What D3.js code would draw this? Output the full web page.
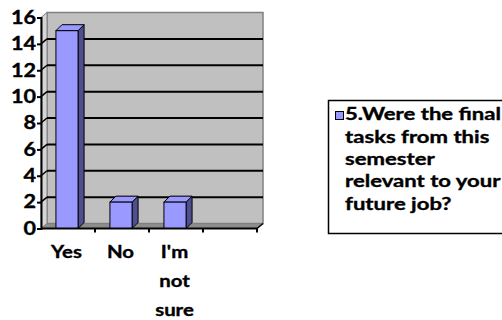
<!DOCTYPE html>
<html><head><meta charset="utf-8">
<script src="https://cdn.jsdelivr.net/npm/d3@7"></script>
<style>
html,body{margin:0;padding:0;background:#fff;}
svg{display:block;}
text{font-family:Lato,"Open Sans",sans-serif;font-weight:bold;fill:#000;stroke:#000;stroke-width:0.35px;}
</style></head>
<body>
<svg id="c" width="502" height="320"></svg>
<script>
const categories = ["Yes", "No", "I'm not sure", ""];
const categoryLines = [["Yes"], ["No"], ["I'm", "not", "sure"], []];
const values = [15, 2, 2, null];
const yTicks = [0, 2, 4, 6, 8, 10, 12, 14, 16];
const legendLines = ["5.Were the final", "tasks from this", "semester", "relevant to your", "future job?"];

const svg = d3.select("#c");
const x = d3.scaleBand().domain(categories).range([41, 257]).paddingInner(0);
const y = d3.scaleLinear().domain([0, 16]).range([228.5, 17.5]);
const dx = 6, dy = -5;      // wall depth
const bdx = 6, bdy = -6;    // bar depth
const x0 = x.range()[0], x1 = x.range()[1];
const yb = y(0), yt = y(16);

// back wall
svg.append("rect").attr("x", x0 + dx).attr("y", yt + dy).attr("width", x1 - x0).attr("height", yb - yt)
  .attr("fill", "#c0c0c0").attr("stroke", "#808080").attr("stroke-width", 1.5);
// left wall
svg.append("polygon").attr("points", [[x0, yt], [x0 + dx, yt + dy], [x0 + dx, yb + dy], [x0, yb]].join(" "))
  .attr("fill", "#d6d6d6").attr("stroke", "#808080").attr("stroke-width", 1);
// floor
svg.append("polygon").attr("points", [[x0, yb], [x0 + dx, yb + dy], [x1 + dx, yb + dy], [x1, yb]].join(" "))
  .attr("fill", "#8c8c8c").attr("stroke", "#808080").attr("stroke-width", 1);

// gridlines
yTicks.filter(v => v > 0 && v < 16).forEach(v => {
  svg.append("line").attr("x1", x0 + dx).attr("x2", x1 + dx).attr("y1", y(v) + dy).attr("y2", y(v) + dy)
    .attr("stroke", "#000").attr("stroke-width", 2);
  svg.append("line").attr("x1", x0).attr("x2", x0 + dx).attr("y1", y(v)).attr("y2", y(v) + dy)
    .attr("stroke", "#000").attr("stroke-width", 1.5);
});

// bars
const bw = x.bandwidth() * 0.41;
categories.forEach((c, i) => {
  const v = values[i];
  if (v == null) return;
  const cx = x(c) + x.bandwidth() / 2 - 1;
  const l = cx - bw / 2, r = cx + bw / 2, top = y(v), bot = y(0);
  svg.append("polygon").attr("points", [[r, top], [r + bdx, top + bdy], [r + bdx, bot + bdy], [r, bot]].join(" "))
    .attr("fill", "#4f4f8f").attr("stroke", "#000").attr("stroke-width", 1);
  svg.append("polygon").attr("points", [[l, top], [l + bdx, top + bdy], [r + bdx, top + bdy], [r, top]].join(" "))
    .attr("fill", "#9999ff").attr("stroke", "#000").attr("stroke-width", 1);
  svg.append("rect").attr("x", l).attr("y", top).attr("width", bw).attr("height", bot - top)
    .attr("fill", "#9999ff").attr("stroke", "#000").attr("stroke-width", 1);
});

// y axis
const ySx = 1.2;
const yAxis = d3.axisLeft(y).tickValues(yTicks).tickSize(4).tickPadding(3).tickFormat(d3.format("d"));
const ga = svg.append("g").attr("transform", `translate(${x0},0)`).call(yAxis);
ga.select(".domain").attr("stroke", "#000").attr("stroke-width", 2);
ga.selectAll(".tick line").attr("stroke", "#000").attr("stroke-width", 2);
ga.selectAll(".tick text").attr("font-size", 18).attr("font-family", "Lato").attr("font-weight", "bold")
  .attr("fill", "#000").attr("x", -5 / ySx).attr("transform", `scale(${ySx},1)`);

// x axis
const xSx = 1.2;
svg.append("line").attr("x1", x0).attr("x2", x1).attr("y1", yb).attr("y2", yb).attr("stroke", "#000").attr("stroke-width", 2);
svg.append("line").attr("x1", x1).attr("x2", x1 + dx).attr("y1", yb).attr("y2", yb + dy).attr("stroke", "#000").attr("stroke-width", 1.5);
categories.forEach((c, i) => {
  const bx = x(c) + x.bandwidth();
  svg.append("line").attr("x1", bx).attr("x2", bx).attr("y1", yb).attr("y2", yb + 4).attr("stroke", "#000").attr("stroke-width", 2);
  const cx = x(c) + x.bandwidth() / 2 - 1.5;
  const t = svg.append("text").attr("text-anchor", "middle").attr("font-size", 17)
    .attr("transform", `translate(${cx},0) scale(${xSx},1)`).attr("x", 0).attr("y", 258);
  categoryLines[i].forEach((ln, k) => t.append("tspan").attr("x", 0).attr("dy", k === 0 ? 0 : 29).text(ln));
});

// legend
const lSx = 1.3;
svg.append("rect").attr("x", 328.5).attr("y", 100.5).attr("width", 200).attr("height", 133)
  .attr("fill", "#fff").attr("stroke", "#000").attr("stroke-width", 1.5);
svg.append("rect").attr("x", 335.5).attr("y", 111.5).attr("width", 8).attr("height", 8)
  .attr("fill", "#9999ff").attr("stroke", "#000").attr("stroke-width", 1);
const lt = svg.append("text").attr("font-size", 17).attr("transform", `translate(345,0) scale(${lSx},1)`)
  .attr("x", 0).attr("y", 120.5);
legendLines.forEach((ln, k) => lt.append("tspan").attr("x", 0).attr("dy", k === 0 ? 0 : 22.3).text(ln));
</script>
</body></html>
